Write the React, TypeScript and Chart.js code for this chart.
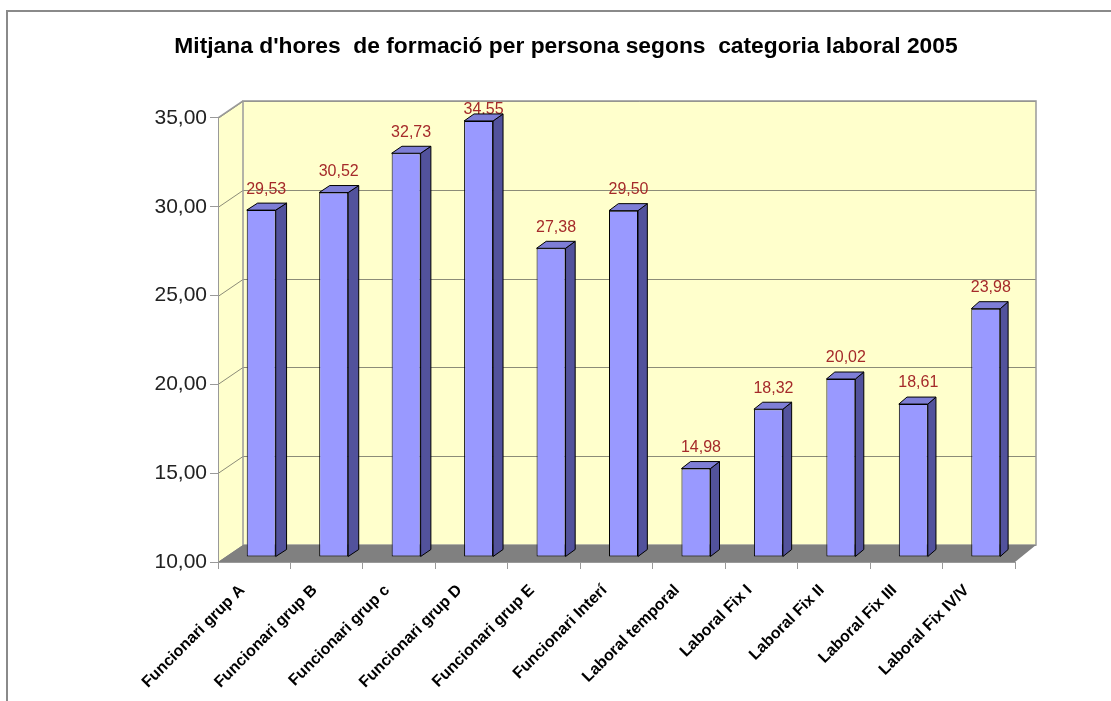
import React, { useEffect, useRef } from "react";
import { Chart, registerables } from "chart.js";

Chart.register(...registerables);

const categories = [
  "Funcionari grup A",
  "Funcionari grup B",
  "Funcionari grup c",
  "Funcionari grup D",
  "Funcionari grup E",
  "Funcionari Interí",
  "Laboral temporal",
  "Laboral Fix I",
  "Laboral Fix II",
  "Laboral Fix III",
  "Laboral Fix IV/V",
];
const values = [29.53, 30.52, 32.73, 34.55, 27.38, 29.5, 14.98, 18.32, 20.02, 18.61, 23.98];
const yMin = 10;
const yMax = 35;
const yStep = 5;
const titleText = "Mitjana d'hores  de formació per persona segons  categoria laboral 2005";

const FONT = "'Liberation Sans', Arial, sans-serif";
const fmt = (v: number) => Number(v).toFixed(2).replace(".", ",");

// 3D styling constants
const DEPTH_L = 25;
const DEPTH_R = 21;
const DEPTH_Y = 17;
const BAR_OX = 7;
const BAR_OY = -5;

const scene = {
  id: "scene3d",
  beforeDraw(chart: any) {
    const { ctx, chartArea: a } = chart;
    ctx.save();
    ctx.fillStyle = "#ffffff";
    ctx.fillRect(0, 0, chart.width, chart.height);
    // outer frame
    ctx.strokeStyle = "#8a8a8a";
    ctx.lineWidth = 2;
    ctx.beginPath();
    ctx.moveTo(7, chart.height + 5);
    ctx.lineTo(7, 11);
    ctx.lineTo(chart.width + 5, 11);
    ctx.stroke();

    const bl = a.left + DEPTH_L;
    const br = a.right + DEPTH_R;
    const bt = a.top - DEPTH_Y;
    const bb = a.bottom - DEPTH_Y;

    ctx.fillStyle = "#FFFFCC";
    ctx.fillRect(bl, bt, br - bl, bb - bt);
    ctx.beginPath();
    ctx.moveTo(a.left, a.top);
    ctx.lineTo(bl, bt);
    ctx.lineTo(bl, bb);
    ctx.lineTo(a.left, a.bottom);
    ctx.closePath();
    ctx.fill();

    const y = chart.scales.y;
    ctx.strokeStyle = "#8c8c78";
    ctx.lineWidth = 1;
    y.ticks.forEach((t: any) => {
      const py = Math.round(y.getPixelForValue(t.value)) + 0.5;
      ctx.beginPath();
      ctx.moveTo(a.left, py);
      ctx.lineTo(bl, py - DEPTH_Y);
      ctx.lineTo(br, py - DEPTH_Y);
      ctx.stroke();
    });

    ctx.strokeStyle = "#9a9a9a";
    ctx.lineWidth = 1.5;
    ctx.strokeRect(bl, bt, br - bl, bb - bt);
    ctx.beginPath();
    ctx.moveTo(a.left, a.top);
    ctx.lineTo(bl, bt);
    ctx.stroke();

    ctx.fillStyle = "#808080";
    ctx.beginPath();
    ctx.moveTo(a.left, a.bottom);
    ctx.lineTo(a.right, a.bottom);
    ctx.lineTo(br, bb);
    ctx.lineTo(bl, bb);
    ctx.closePath();
    ctx.fill();
    ctx.restore();
  },
  beforeDatasetsDraw(chart: any) {
    const { ctx, chartArea: a } = chart;
    const meta = chart.getDatasetMeta(0);
    const ds = chart.data.datasets[0];
    ctx.save();
    ctx.fillStyle = "#A52A2A";
    ctx.font = `16px ${FONT}`;
    ctx.textAlign = "center";
    ctx.textBaseline = "middle";
    meta.data.forEach((el: any, i: number) => {
      const p = el.getProps(["x", "y"], true);
      const sideDx = 10;
      const cx = p.x + BAR_OX + sideDx / 2;
      let cy = p.y + BAR_OY - 21;
      cy = Math.max(cy, a.top - DEPTH_Y + 9);
      ctx.fillText(fmt(ds.data[i]), cx, cy);
    });
    ctx.restore();
    ctx.save();
    ctx.translate(BAR_OX, BAR_OY);
  },
  afterDatasetsDraw(chart: any) {
    const { ctx, chartArea: a } = chart;
    ctx.restore();
    const meta = chart.getDatasetMeta(0);
    ctx.save();
    ctx.lineWidth = 1;
    ctx.strokeStyle = "#000";
    ctx.lineJoin = "round";
    meta.data.forEach((el: any) => {
      const p = el.getProps(["x", "y", "base", "width"], true);
      const t = (p.x - a.left) / (a.right - a.left);
      const dx = 11 - 3.3 * t;
      const dy = -7;
      const xl = p.x - p.width / 2 + BAR_OX;
      const xr = p.x + p.width / 2 + BAR_OX;
      const yt = p.y + BAR_OY;
      const yb = Math.min(p.base, a.bottom) + BAR_OY;
      // side
      ctx.fillStyle = "#52529C";
      ctx.beginPath();
      ctx.moveTo(xr, yt);
      ctx.lineTo(xr + dx, yt + dy);
      ctx.lineTo(xr + dx, yb + dy);
      ctx.lineTo(xr, yb);
      ctx.closePath();
      ctx.fill();
      ctx.stroke();
      // top
      ctx.fillStyle = "#7E7ED6";
      ctx.beginPath();
      ctx.moveTo(xl, yt);
      ctx.lineTo(xr, yt);
      ctx.lineTo(xr + dx, yt + dy);
      ctx.lineTo(xl + dx, yt + dy);
      ctx.closePath();
      ctx.fill();
      ctx.stroke();
    });
    ctx.restore();
  },
};

export default function App() {
  const ref = useRef<HTMLCanvasElement | null>(null);
  useEffect(() => {
    if (!ref.current) return;
    const chart = new Chart(ref.current, {
      type: "bar",
      data: {
        labels: categories,
        datasets: [
          {
            data: values,
            base: yMin,
            backgroundColor: "#9999FF",
            borderColor: "#000000",
            borderWidth: 1,
            borderSkipped: false,
            barPercentage: 0.4,
            categoryPercentage: 1,
            yAxisID: "y",
          },
        ],
      },
      options: {
        animation: false,
        responsive: false,
        devicePixelRatio: 1,
        layout: { padding: { left: 21, right: 0, top: 0, bottom: 0 } },
        plugins: {
          legend: { display: false },
          tooltip: { enabled: false },
          title: {
            display: true,
            text: titleText,
            color: "#000",
            font: { family: FONT, size: 22.8, weight: "bold" },
            padding: { top: 33.3, bottom: 57.3 },
          },
        },
        scales: {
          x: {
            type: "category",
            offset: true,
            grid: {
              display: true,
              drawOnChartArea: false,
              drawTicks: true,
              tickLength: 7,
              color: "#999",
              offset: true,
            },
            border: { display: true, color: "#999" },
            ticks: {
              autoSkip: false,
              maxRotation: 45,
              minRotation: 45,
              color: "#000",
              font: { family: FONT, size: 16, weight: "bold" },
              padding: 12,
              labelOffset: -12,
            },
            afterFit: (s: any) => {
              s.height = 139;
            },
          },
          y: {
            position: "left",
            min: yMin,
            max: yMax,
            ticks: {
              stepSize: yStep,
              callback: (v: any) => fmt(v),
              color: "#222",
              font: { family: FONT, size: 21 },
              padding: 3,
            },
            grid: { drawOnChartArea: false, drawTicks: true, tickLength: 8, color: "#999" },
            border: { display: true, color: "#999" },
            afterFit: (s: any) => {
              s.width = 197;
            },
          },
          yRight: {
            type: "linear",
            position: "right",
            display: true,
            grid: { display: false, drawTicks: false },
            border: { display: false },
            ticks: { display: false },
            afterFit: (s: any) => {
              s.width = 96;
            },
          },
        },
      },
      plugins: [scene],
    } as any);
    return () => chart.destroy();
  }, []);
  return (
    <canvas
      ref={ref}
      width={1111}
      height={701}
      style={{ position: "fixed", left: 0, top: 0, width: 1111, height: 701 }}
    />
  );
}
